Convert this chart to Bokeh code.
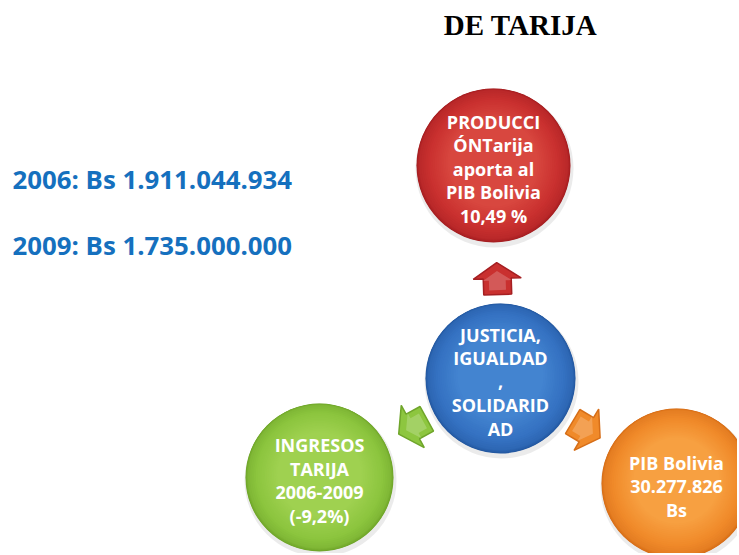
import math
from bokeh.plotting import figure
from bokeh.models import Range1d
from bokeh.core.properties import value
from bokeh.embed import file_html
from bokeh.resources import INLINE

# ---- content ----
title_text = "DE TARIJA"
income_lines = ["2006: Bs 1.911.044.934", "2009: Bs 1.735.000.000"]

node_names = ["produccion", "centro", "ingresos", "pib"]
node_labels = [
    ["PRODUCCI", "ÓNTarija", "aporta al", "PIB Bolivia", "10,49 %"],
    ["JUSTICIA,", "IGUALDAD", ",", "SOLIDARID", "AD"],
    ["INGRESOS", "TARIJA", "2006-2009", "(-9,2%)"],
    ["PIB Bolivia", "30.277.826", "Bs"],
]

# ---- layout / style (page pixel coordinates) ----
node_center = {"produccion": (493, 165), "centro": (500, 378),
               "ingresos": (319, 477), "pib": (676, 483)}
node_radius = {"produccion": 77, "centro": 75, "ingresos": 74, "pib": 75}
node_edge = {"produccion": "#a51f22", "centro": "#2458a0",
             "ingresos": "#6fa52a", "pib": "#d66e18"}
node_main = {"produccion": "#c9302f", "centro": "#3572c2",
             "ingresos": "#8dc63f", "pib": "#f08a2a"}
node_light = {"produccion": "#d8473f", "centro": "#4384d0",
              "ingresos": "#9fd150", "pib": "#f7a041"}
arrow_targets = ["produccion", "ingresos", "pib"]
arrow_dist = 100

W, H = 737, 553
p = figure(width=W, height=H, output_backend="svg", toolbar_location=None,
           x_range=Range1d(0, W), y_range=Range1d(H, 0),
           min_border=0, background_fill_color="white")
p.axis.visible = False
p.grid.visible = False
p.outline_line_color = None


def hex2rgb(h):
    h = h.lstrip("#")
    return tuple(int(h[i:i + 2], 16) for i in (0, 2, 4))


def mix(a, b, t):
    ra, rb = hex2rgb(a), hex2rgb(b)
    return "#%02x%02x%02x" % tuple(int(round(ra[i] + (rb[i] - ra[i]) * t)) for i in range(3))


# circles with a soft gradient
for name in node_names:
    cx, cy = node_center[name]
    r = node_radius[name]
    p.circle(x=[cx + 1], y=[cy + 3], radius=r + 2, fill_color="#000000",
             fill_alpha=0.08, line_color=None)
    p.circle(x=[cx], y=[cy], radius=r, fill_color=node_edge[name],
             line_color=None)
    steps = 24
    for k in range(1, steps):
        t = k / (steps - 1)
        rr = r * (1 - 0.06 * t) - 4 * t
        if t < 0.5:
            col = mix(node_edge[name], node_main[name], t * 2)
        else:
            col = mix(node_main[name], node_light[name], (t - 0.5) * 2)
        p.circle(x=[cx], y=[cy - 3 * t], radius=rr * (1 - 0.5 * max(0, t - 0.3)),
                 fill_color=col, line_color=None)

# arrows between centre and outer circles
cx0, cy0 = node_center["centro"]
tmpl = [(-16, -14), (0, -14), (0, -24), (16, 0), (0, 24), (0, 14), (-16, 14)]
for name in arrow_targets:
    tx, ty = node_center[name]
    ang = math.atan2(ty - cy0, tx - cx0)
    ux, uy = math.cos(ang), math.sin(ang)
    vx, vy = -uy, ux
    ax, ay = cx0 + ux * arrow_dist, cy0 + uy * arrow_dist
    xs = [ax + u * ux + v * vx for u, v in tmpl]
    ys = [ay + u * uy + v * vy for u, v in tmpl]
    p.patch(xs, ys, fill_color=node_main[name], line_color=node_edge[name],
            line_width=1.5)
    xs2 = [ax + 0.6 * u * ux + 0.6 * v * vx - 2 * ux for u, v in tmpl]
    ys2 = [ay + 0.6 * u * uy + 0.6 * v * vy - 2 * uy for u, v in tmpl]
    p.patch(xs2, ys2, fill_color="white", fill_alpha=0.2, line_color=None)

# circle labels
line_h = 23.5
for name, lines in zip(node_names, node_labels):
    cx, cy = node_center[name]
    n = len(lines)
    ys = [cy + 3 + (i - (n - 1) / 2) * line_h for i in range(n)]
    p.text(x=[cx] * n, y=ys, text=lines, text_color="white",
           text_font=value("Open Sans"), text_font_style="bold",
           text_font_size="18px", text_align="center",
           text_baseline="middle")

# title
p.text(x=[520], y=[24], text=[title_text], text_color="black",
       text_font=value("Liberation Serif"), text_font_style="bold",
       text_font_size="29px", text_align="center", text_baseline="middle")

# left figures
p.text(x=[12, 12], y=[178, 244], text=income_lines, text_color="#1570be",
       text_font=value("Open Sans"), text_font_style="bold",
       text_font_size="25.8px", text_align="left", text_baseline="middle")

open("out.html", "w").write(file_html(p, INLINE))
